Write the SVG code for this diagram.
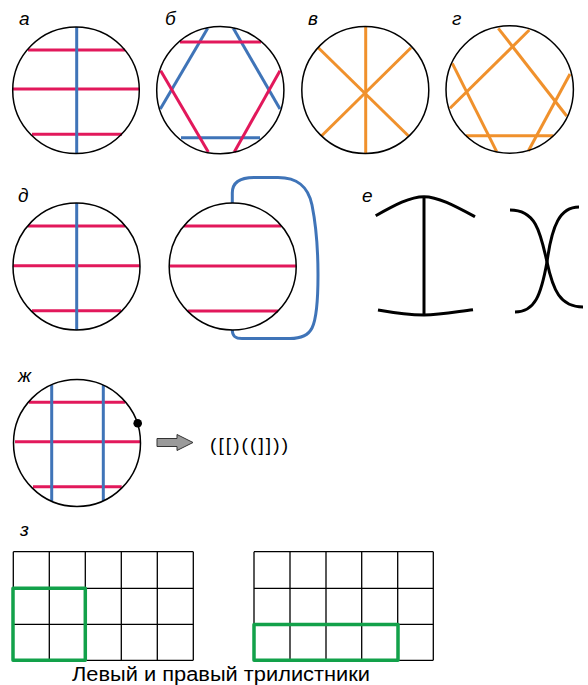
<svg xmlns="http://www.w3.org/2000/svg" width="588" height="685" viewBox="0 0 588 685">
<style>
.c{fill:none;stroke:#000;stroke-width:1.5}
.r{stroke:#e2185b;stroke-width:3;fill:none}
.b{stroke:#3f74b8;stroke-width:3;fill:none}
.o{stroke:#f0912c;stroke-width:3;fill:none}
.k{stroke:#000;stroke-width:3;fill:none}
.g{fill:none;stroke:#000;stroke-width:1.3}
.gr{fill:none;stroke:#12a14a;stroke-width:3.5;stroke-linejoin:round}
.lbl{font-family:"Liberation Sans",Arial,sans-serif;font-style:italic;font-size:19px;fill:#000}
.t{font-family:"Liberation Sans",Arial,sans-serif;font-size:20px;fill:#000}
</style>
<g id="labels">
<text class="lbl" x="19" y="25">а</text>
<text class="lbl" x="165" y="25">б</text>
<text class="lbl" x="308" y="25">в</text>
<text class="lbl" x="452" y="25">г</text>
<text class="lbl" x="18" y="202">д</text>
<text class="lbl" x="362" y="202">е</text>
<text class="lbl" x="18" y="382">ж</text>
<text class="lbl" x="20" y="536">з</text>
</g>
<g id="node-a">
<line class="r" x1="28" y1="50" x2="125" y2="50"/>
<line class="r" x1="13" y1="89" x2="139" y2="89"/>
<line class="r" x1="32" y1="134.3" x2="122" y2="134.3"/>
<line class="b" x1="76.7" y1="27" x2="76.7" y2="153.5"/>
<circle class="c" cx="76" cy="90.3" r="63.3"/>
</g>
<g id="node-b">
<line class="b" x1="207.7" y1="28.3" x2="160.3" y2="109"/>
<line class="b" x1="233.3" y1="28.3" x2="280" y2="109"/>
<line class="b" x1="181" y1="137.7" x2="260" y2="137.7"/>
<line class="r" x1="180" y1="42" x2="261" y2="42"/>
<line class="r" x1="160.7" y1="70.7" x2="208.3" y2="152"/>
<line class="r" x1="280" y1="70.7" x2="234.3" y2="152"/>
<circle class="c" cx="220.3" cy="90.2" r="63.6"/>
</g>
<g id="node-v">
<line class="o" x1="365.7" y1="27" x2="365.7" y2="153.5"/>
<line class="o" x1="318.3" y1="47.7" x2="408.3" y2="135.7"/>
<line class="o" x1="411" y1="47.7" x2="321.7" y2="135.7"/>
<circle class="c" cx="365.3" cy="90" r="63.5"/>
</g>
<g id="node-g">
<line class="o" x1="498.3" y1="28.3" x2="566.7" y2="116"/>
<line class="o" x1="529.3" y1="30" x2="450" y2="108.3"/>
<line class="o" x1="452.3" y1="63.3" x2="496.7" y2="151.7"/>
<line class="o" x1="466" y1="135.7" x2="553.3" y2="135.7"/>
<line class="o" x1="570" y1="74" x2="528.3" y2="151"/>
<circle class="c" cx="509.7" cy="89.5" r="63.7"/>
</g>
<g id="node-d1">
<line class="r" x1="28" y1="226" x2="125" y2="226"/>
<line class="r" x1="13" y1="265.7" x2="140" y2="265.7"/>
<line class="r" x1="32" y1="310.7" x2="121" y2="310.7"/>
<line class="b" x1="76.7" y1="203" x2="76.7" y2="330"/>
<circle class="c" cx="76.5" cy="266.5" r="63.5"/>
</g>
<g id="node-d2">
<line class="r" x1="184" y1="226" x2="281" y2="226"/>
<line class="r" x1="170" y1="266" x2="296" y2="266"/>
<line class="r" x1="188" y1="311" x2="278" y2="311"/>
<path class="b" d="M232.3,203 L232.3,193 C232.3,182 240,177.5 254,177.5 L278,177.5 C297,177.5 308,186 312,205 C316,225 318,250 318,275 C318,300 317,318 312,328 C308,336 300,338.5 290,338.5 L242,338.5 C235,338.5 232.3,336 232.3,330"/>
<circle class="c" cx="232.7" cy="266.5" r="63.5"/>
</g>
<g id="node-e1">
<path class="k" d="M375.7,215.7 C395,205 410,196.7 424,196.7 C438,196.7 455,206 475,216.7"/>
<path class="k" d="M424,196.7 L424,315"/>
<path class="k" d="M378,310 C395,313 410,315 424,315 C440,315 455,312 473,309.7"/>
</g>
<g id="node-e2">
<path class="k" d="M510,210 C535,210 540,230 547,262 C553,290 560,307 583,307"/>
<path class="k" d="M579,207 C560,207 552,225 547,262 C541,295 535,312 515,312"/>
</g>
<g id="node-zh">
<line class="r" x1="29" y1="402.3" x2="125" y2="402.3"/>
<line class="r" x1="15" y1="441.7" x2="140" y2="441.7"/>
<line class="r" x1="33" y1="486.7" x2="121.7" y2="486.7"/>
<line class="b" x1="51.7" y1="385" x2="51.7" y2="501"/>
<line class="b" x1="103.3" y1="385" x2="103.3" y2="501"/>
<circle class="c" cx="77" cy="443" r="63.5"/>
<circle cx="137.7" cy="423.3" r="4.3" fill="#000"/>
</g>
<g id="connectors">
<path d="M157,438.5 L177,438.5 L177,434.5 L193,442.5 L177,450.5 L177,446.5 L157,446.5 Z" fill="#9a9a9a" stroke="#333" stroke-width="1"/>
</g>
<g id="node-brackets">
<text x="210" y="451" font-family="'Liberation Sans Narrow','Liberation Sans',Arial,sans-serif" font-size="19" textLength="78" lengthAdjust="spacing">([[)((]]))</text>
</g>
<g id="node-grid1">
<path class="g" d="M13.3,551.7 H193.3 M13.3,588.3 H193.3 M13.3,624.3 H193.3 M13.3,660.3 H193.3 M13.3,551.7 V660.3 M49.3,551.7 V660.3 M85.3,551.7 V660.3 M121.3,551.7 V660.3 M157.3,551.7 V660.3 M193.3,551.7 V660.3"/>
<rect class="gr" x="13" y="588.3" width="72.3" height="72"/>
</g>
<g id="node-grid2">
<path class="g" d="M254,551.7 H433.3 M254,588.3 H433.3 M254,624.3 H433.3 M254,660.3 H433.3 M254,551.7 V660.3 M290,551.7 V660.3 M326,551.7 V660.3 M361.7,551.7 V660.3 M397.7,551.7 V660.3 M433.3,551.7 V660.3"/>
<rect class="gr" x="254" y="624.6" width="144" height="35.7"/>
</g>
<g id="caption">
<text class="t" x="72" y="681" textLength="298" lengthAdjust="spacingAndGlyphs">Левый и правый трилистники</text>
</g>
</svg>
